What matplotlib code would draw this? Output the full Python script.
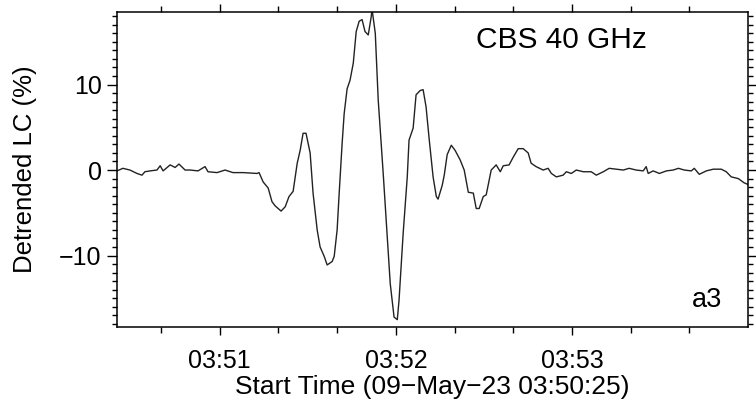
import numpy as np
import matplotlib
matplotlib.use("Agg")
import matplotlib.pyplot as plt
from matplotlib.ticker import FixedLocator, MultipleLocator

# seconds after 03:50:25 and detrended light curve (%)
t = [0.0, 2.0, 4.4, 6.8, 8.5, 9.5, 11.3, 13.6, 14.7, 15.7, 18.1, 19.8, 21.1,
     23.2, 24.9, 27.6, 30.0, 31.0, 34.1, 36.8, 39.5, 43.0, 47.7, 48.4, 49.8,
     51.5, 52.8, 53.9, 55.9, 57.3, 58.6, 60.0, 61.4, 62.4, 63.4, 64.4, 65.8,
     66.8, 68.2, 69.2, 70.6, 71.6, 73.3, 74.0, 75.0, 75.7, 76.7, 77.4, 78.4,
     79.4, 80.5, 81.5, 82.5, 83.5, 84.5, 85.6, 86.6, 86.9, 88.0, 89.0, 90.7,
     92.0, 93.1, 94.4, 95.5, 96.1, 97.5, 98.9, 99.5, 100.9, 101.9, 103.3,
     104.3, 105.3, 106.4, 107.7, 108.8, 109.4, 110.8, 111.5, 112.5, 113.9,
     115.2, 116.9, 118.3, 119.7, 121.4, 122.4, 123.4, 124.8, 125.8, 127.5,
     129.2, 130.6, 131.6, 133.6, 135.0, 136.7, 138.4, 140.1, 141.1, 142.8,
     145.2, 146.9, 148.0, 149.7, 152.0, 153.1, 154.8, 156.5, 158.9, 161.6,
     163.3, 165.7, 167.7, 170.1, 172.5, 174.5, 176.9, 179.3, 180.3, 181.0,
     182.7, 184.8, 187.2, 189.5, 191.3, 193.3, 195.7, 196.7, 198.4, 200.8,
     203.2, 205.9, 207.6, 209.3, 211.7, 213.7, 215.1]
lc = [-0.1, 0.2, 0.0, -0.4, -0.6, -0.2, -0.1, 0.0, 0.5, -0.1, 0.6, 0.3, 0.7,
      0.0, 0.0, -0.1, 0.4, -0.2, -0.3, 0.0, -0.3, -0.3, -0.4, -0.3, -1.4,
      -2.1, -3.7, -4.2, -4.8, -4.3, -3.1, -2.5, 0.8, 2.3, 4.3, 4.3, 2.0,
      -2.7, -7.0, -9.0, -10.1, -11.1, -10.7, -10.1, -7.0, -2.7, 3.1, 6.6, 9.5,
      10.5, 12.5, 16.2, 17.4, 17.6, 16.2, 15.8, 17.9, 18.8, 16.0, 8.2, -0.4,
      -7.4, -13.3, -17.2, -17.5, -15.2, -7.4, -0.8, 3.5, 4.9, 8.8, 9.3,
      9.4, 7.4, 3.5, -0.8, -3.1, -3.4, -1.8, -0.6, 1.8, 2.9,
      2.3, 1.2, 0.0, -2.6, -2.7, -4.5, -4.5, -3.1, -2.9, 0.0,
      0.6, -0.2, 0.5, 0.6, 1.5, 2.5, 2.5, 2.0, 0.8, 0.4,
      0.0, 0.2, -0.4, -0.8, -0.6, -0.2, -0.4, 0.0, -0.2, -0.2,
      -0.6, -0.2, 0.2, 0.1, 0.0, 0.2, 0.0, -0.1, 0.4, -0.4,
      -0.1, -0.4, -0.1, 0.0, 0.2, 0.0, -0.1, 0.2, -0.5, -0.1,
      0.1, 0.1, -0.2, -0.8, -1.0, -1.5, -1.7]

xticks = [35, 95, 155]
xticklabels = ['03:51', '03:52', '03:53']
yticks = [-10, 0, 10]

plt.rcParams['font.family'] = ['Liberation Sans', 'DejaVu Sans']

fig = plt.figure(figsize=(7.56, 4.01), dpi=100)
ax = fig.add_axes([0.1548, 0.1845, 0.8346, 0.7855])
ax.plot(t, lc, color='#222222', lw=1.0)

ax.set_xlim(0, 215)
ax.set_ylim(-18.36, 18.48)
ax.xaxis.set_major_locator(FixedLocator(xticks))
ax.set_xticklabels(xticklabels)
ax.xaxis.set_minor_locator(FixedLocator([15, 55, 75, 115, 135, 175, 195]))
ax.yaxis.set_major_locator(FixedLocator(yticks))
ax.yaxis.set_minor_locator(MultipleLocator(1))

ax.tick_params(which='both', direction='out', top=True, right=True,
               labelsize=18, width=1.0, colors='black')
ax.tick_params(axis='x', which='major', length=6, pad=10)
ax.tick_params(axis='x', which='minor', length=4)
ax.tick_params(axis='y', which='major', length=7, pad=4)
ax.tick_params(axis='y', which='minor', length=3.5)
for s in ax.spines.values():
    s.set_linewidth(1.1)

ax.set_xlabel('Start Time (09\u2212May\u221223 03:50:25)', fontsize=19, labelpad=1)
ax.set_ylabel('Detrended LC (%)', fontsize=18.5, labelpad=16)

ax.text(0.569, 0.955, 'CBS 40 GHz', transform=ax.transAxes, fontsize=21.5,
        ha='left', va='top')
ax.text(0.96, 0.063, 'a3', transform=ax.transAxes, fontsize=19.5,
        ha='right', va='baseline')

fig.savefig('out.png', dpi=100)
